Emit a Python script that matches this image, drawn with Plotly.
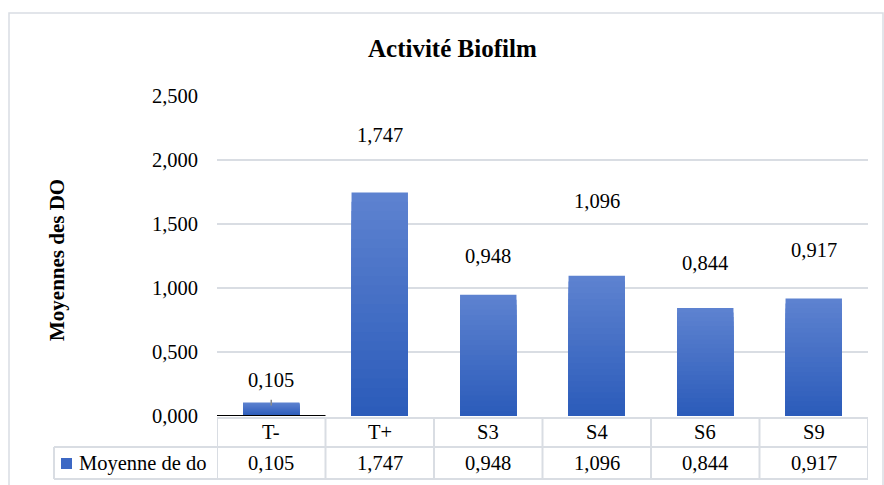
import plotly.graph_objects as go

categories = ["T-", "T+", "S3", "S4", "S6", "S9"]
values = [0.105, 1.747, 0.948, 1.096, 0.844, 0.917]
errors = [0.035, 0.31, 0.16, 0.44, 0.21, 0.24]   # écart-types estimés (barres d'erreur)
y_ticks = [0, 0.5, 1.0, 1.5, 2.0, 2.5]
series_name = "Moyenne de do"
title_text = "Activité Biofilm"
y_title = "Moyennes des DO"

FONT = "Liberation Serif, Times New Roman, Tinos, serif"
GRID = "#d9dde3"
TOP_C = (0x5D, 0x82, 0xD0)
BOT_C = (0x2C, 0x5C, 0xBA)

# plot-area geometry in pixels
W_PX, H_PX = 884, 485
L, R, T, B = 217, 868, 96, 416


def px_x(p):
    return (p - L) / (R - L)


def px_y(p):
    return (B - p) / (B - T)


def fmt(v):
    return f"{v:.3f}".replace(".", ",")


xs = list(range(len(categories)))
fig = go.Figure()

# gradient bars: overlaid layers, lighter at the top, darker at the bottom
N = 24
for k in range(N):
    f = k / (N - 1)
    c = tuple(round(TOP_C[i] + (BOT_C[i] - TOP_C[i]) * f) for i in range(3))
    fig.add_trace(go.Bar(
        x=xs, y=[v * (1 - k / N) for v in values], width=0.52,
        marker=dict(color=f"rgb{c}", line=dict(width=0)),
        hoverinfo="skip", showlegend=False,
    ))

# visible small error bar on T-
fig.add_trace(go.Scatter(
    x=[xs[0]], y=[values[0]], mode="markers", marker=dict(size=0.1, color="rgba(0,0,0,0)"),
    error_y=dict(type="data", array=[0.022], symmetric=True, color="#8a8a8a", thickness=1.5, width=0),
    hoverinfo="skip", showlegend=False,
))

txt = dict(family=FONT, size=20.5, color="#000")
annotations = []
# data labels above the (hidden) error bars
for i, (v, e) in enumerate(zip(values, errors)):
    annotations.append(dict(x=i, y=v + e, xref="x", yref="y", text=fmt(v), showarrow=False,
                            xanchor="center", yanchor="bottom", yshift=5, font=txt))

# data table
for i, (c, v) in enumerate(zip(categories, values)):
    annotations.append(dict(x=i, y=px_y(432), xref="x", yref="paper", text=c, showarrow=False,
                            xanchor="center", yanchor="middle", font=txt))
    annotations.append(dict(x=i, y=px_y(463), xref="x", yref="paper", text=fmt(v), showarrow=False,
                            xanchor="center", yanchor="middle", font=txt))
annotations.append(dict(x=px_x(77), y=px_y(463), xref="paper", yref="paper", text=series_name,
                        showarrow=False, xanchor="left", yanchor="middle", font=txt))

# titles
annotations.append(dict(x=px_x(452), y=px_y(49), xref="paper", yref="paper", text=f"<b>{title_text}</b>",
                        showarrow=False, xanchor="center", yanchor="middle",
                        font=dict(family=FONT, size=25, color="#000")))
annotations.append(dict(x=px_x(57), y=px_y(260), xref="paper", yref="paper", text=f"<b>{y_title}</b>",
                        showarrow=False, textangle=-90, xanchor="center", yanchor="middle",
                        font=dict(family=FONT, size=21, color="#000")))

shapes = []
line = dict(color=GRID, width=2)
# table horizontal lines
shapes.append(dict(type="line", xref="paper", yref="paper", x0=0, x1=1, y0=px_y(418), y1=px_y(418), line=line))
for yy in (447, 479):
    shapes.append(dict(type="line", xref="paper", yref="paper", x0=px_x(54), x1=1, y0=px_y(yy), y1=px_y(yy), line=line))
# table vertical lines
for i in range(len(categories) + 1):
    shapes.append(dict(type="line", xref="x", yref="paper", x0=i - 0.5, x1=i - 0.5,
                       y0=px_y(418), y1=px_y(479), line=line))
shapes.append(dict(type="line", xref="paper", yref="paper", x0=px_x(54), x1=px_x(54),
                   y0=px_y(447), y1=px_y(479), line=line))
# legend key square
shapes.append(dict(type="rect", xref="paper", yref="paper", x0=px_x(61), x1=px_x(72),
                   y0=px_y(469), y1=px_y(458), line=dict(width=0), fillcolor="#3d68c4"))
# black axis segment under first category
shapes.append(dict(type="line", xref="x", yref="y", x0=-0.5, x1=0.5, y0=0, y1=0,
                   line=dict(color="#000", width=2)))
# chart outer border
shapes.append(dict(type="rect", xref="paper", yref="paper", x0=px_x(9), x1=px_x(883),
                   y0=px_y(520), y1=px_y(13), line=dict(color=GRID, width=1.5), layer="below"))

fig.update_layout(
    width=W_PX, height=H_PX,
    margin=dict(l=L, r=W_PX - R, t=T, b=H_PX - B),
    barmode="overlay", bargap=0.48,
    paper_bgcolor="white", plot_bgcolor="white",
    separators=", ",
    showlegend=False,
    font=dict(family=FONT),
    xaxis=dict(range=[-0.5, len(categories) - 0.5], showticklabels=False, showgrid=False,
               zeroline=False, showline=False, ticks=""),
    yaxis=dict(range=[0, 2.5], tickvals=y_ticks, tickformat=".3f", showgrid=True, gridcolor=GRID,
               gridwidth=1.5, zeroline=False, showline=False, ticks="", ticklabelstandoff=18,
               tickfont=txt),
    annotations=annotations, shapes=shapes,
)

fig.write_html("out.html")
